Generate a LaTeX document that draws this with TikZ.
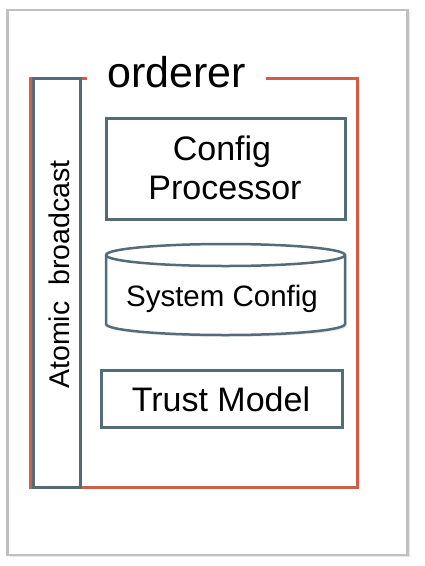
\documentclass[tikz,border=0pt]{standalone}
\usepackage{fontspec}
\setmainfont{Liberation Sans}
\usetikzlibrary{shadows}
\definecolor{orng}{RGB}{207,94,70}
\definecolor{slate}{RGB}{84,108,120}
\definecolor{lgray}{RGB}{192,192,192}
\tikzset{
  softshadow/.style={drop shadow={opacity=0.18, shadow xshift=2pt, shadow yshift=-2pt}},
  slatebox/.style={draw=slate, line width=3pt, fill=white, inner sep=0pt},
  lbl/.style={font=\fontsize{34}{39}\selectfont, align=center, inner sep=0pt},
}
\begin{document}
\begin{tikzpicture}[x=1pt, y=-1pt]
\useasboundingbox (0,0) rectangle (424,566);
% outer frame
\node[draw=lgray, line width=2.5pt, fill=white, softshadow, minimum width=400pt, minimum height=545pt, inner sep=0pt] (frame) at (207.5,282.5) {};
% orange container
\node[draw=orng, line width=3pt, fill=white, softshadow, minimum width=327.5pt, minimum height=409pt, inner sep=0pt] (orderer) at (193.75,282.5) {};
\node[fill=white, inner xsep=20pt, inner ysep=2pt, anchor=base, font=\fontsize{43}{50}\selectfont] (ordlabel) at (176.5,87) {orderer};
% atomic broadcast
\node[slatebox, minimum width=47pt, minimum height=409pt] (atomic) at (57,282.5) {};
\node[rotate=90, font=\fontsize{28.5}{34}\selectfont, inner sep=0pt] (atomiclabel) at (59.5,274.5) {Atomic\ \ broadcast};
% config processor
\node[slatebox, minimum width=239pt, minimum height=101pt] (cfgproc) at (225.5,168.5) {};
\node[lbl, anchor=base] (cfgtext1) at (222,160) {Config};
\node[lbl, anchor=base] (cfgtext2) at (225,199) {Processor};
% system config cylinder
\draw[draw=slate, line width=2.5pt, fill=white, softshadow] (106,255) -- (106,324) arc[start angle=180, end angle=0, x radius=119.5, y radius=11] -- (345,255) arc[start angle=0, end angle=-180, x radius=119.5, y radius=11] -- cycle;
\draw[draw=slate, line width=2.5pt] (106,255) arc[start angle=180, end angle=0, x radius=119.5, y radius=11];
\node[font=\fontsize{29.5}{34}\selectfont, inner sep=0pt, anchor=base] (syscfg) at (222,306) {System Config};
% trust model
\node[slatebox, minimum width=241pt, minimum height=57pt] (trust) at (222,399) {};
\node[lbl, anchor=base] (trusttext) at (221,411) {Trust Model};
\end{tikzpicture}
\end{document}
